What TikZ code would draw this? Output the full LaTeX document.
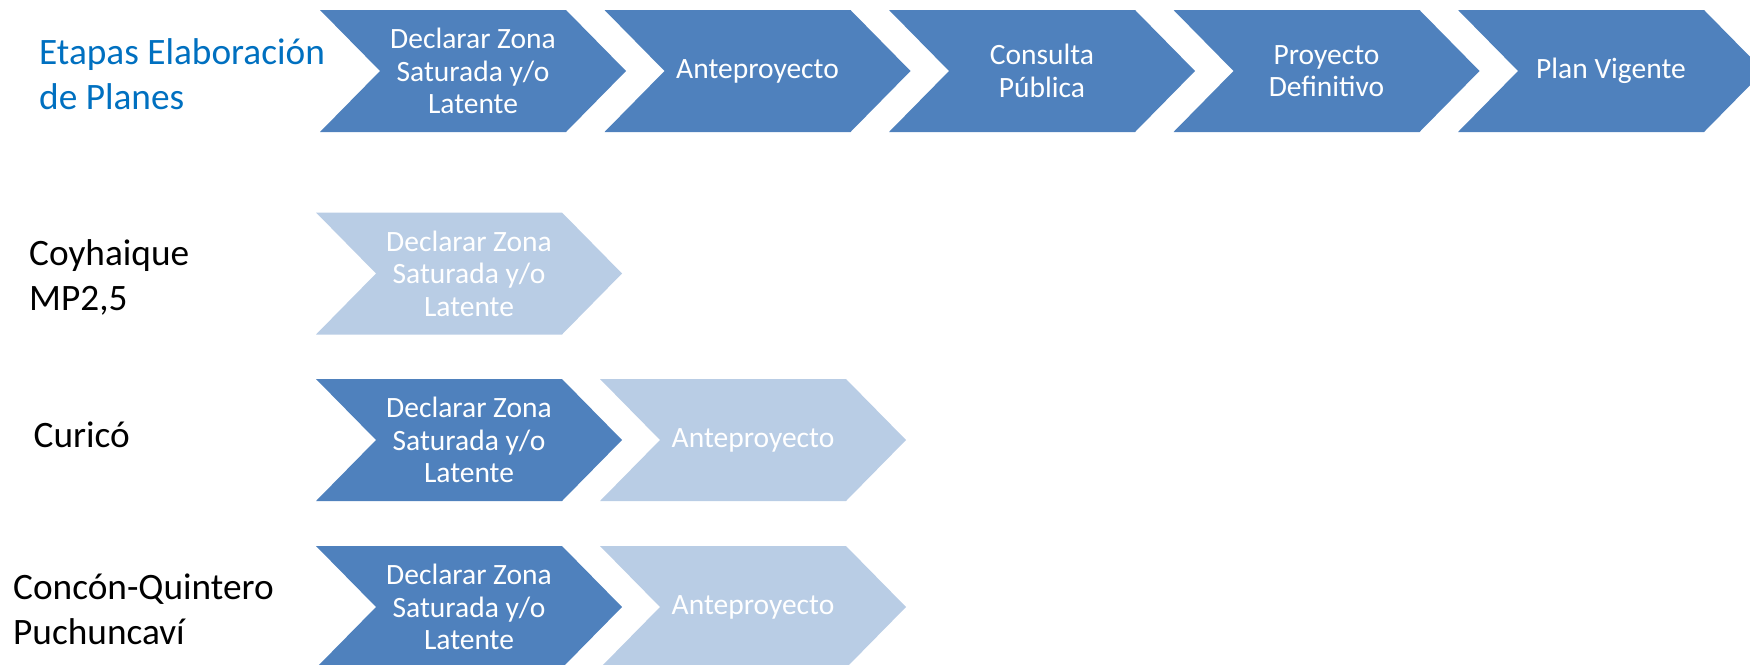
\documentclass[tikz,border=0pt]{standalone}
\usepackage{fontspec}
\setmainfont{Carlito}
\definecolor{darkchev}{HTML}{4F81BD}
\definecolor{lightchev}{HTML}{B9CDE5}
\definecolor{titleblue}{HTML}{0070C0}
\newcommand\mychevron[5]{% name, left x, centre y, colour, text
  \fill[#4] (#2,#3-61) -- ++(246,0) -- ++(60,61) -- ++(-60,61) -- ++(-246,0) -- ++(60,-61) -- cycle;
  \node[chevtext] (#1) at (#2+153,#3) {#5};
}
\tikzset{
  chevtext/.style={text=white, align=center, inner sep=0pt, font=\fontsize{29.5}{32.5}\selectfont},
  rowlabel/.style={anchor=west, align=left, inner sep=0pt, font=\fontsize{37.3}{45}\selectfont},
}
\begin{document}
\begin{tikzpicture}[x=1pt,y=-1pt]
\useasboundingbox (0,0) rectangle (1750,664);
\begin{scope}
\clip (0,0) rectangle (1750,664);
% header row
\node[rowlabel, text=titleblue] (title) at (39,74) {Etapas Elaboración\\de Planes};
\mychevron{h1}{320}{71}{darkchev}{Declarar Zona\\Saturada y/o\\Latente}
\mychevron{h2}{604.5}{71}{darkchev}{Anteproyecto}
\mychevron{h3}{889}{71}{darkchev}{Consulta\\Pública}
\mychevron{h4}{1173.5}{71}{darkchev}{Proyecto\\Definitivo}
\mychevron{h5}{1458}{71}{darkchev}{Plan Vigente}
% Coyhaique
\node[rowlabel] (coy) at (29,277.5) {Coyhaique\\MP2,5};
\mychevron{c1}{316}{273.5}{lightchev}{Declarar Zona\\Saturada y/o\\Latente}
% Curico
\node[rowlabel] (cur) at (33.5,435) {Curicó};
\mychevron{u1}{316}{440}{darkchev}{Declarar Zona\\Saturada y/o\\Latente}
\mychevron{u2}{600}{440}{lightchev}{Anteproyecto}
% Concon
\node[rowlabel] (con) at (13,609.5) {Concón-Quintero\\Puchuncaví};
\mychevron{q1}{316}{607}{darkchev}{Declarar Zona\\Saturada y/o\\Latente}
\mychevron{q2}{600}{607}{lightchev}{Anteproyecto}
\end{scope}
\end{tikzpicture}
\end{document}
